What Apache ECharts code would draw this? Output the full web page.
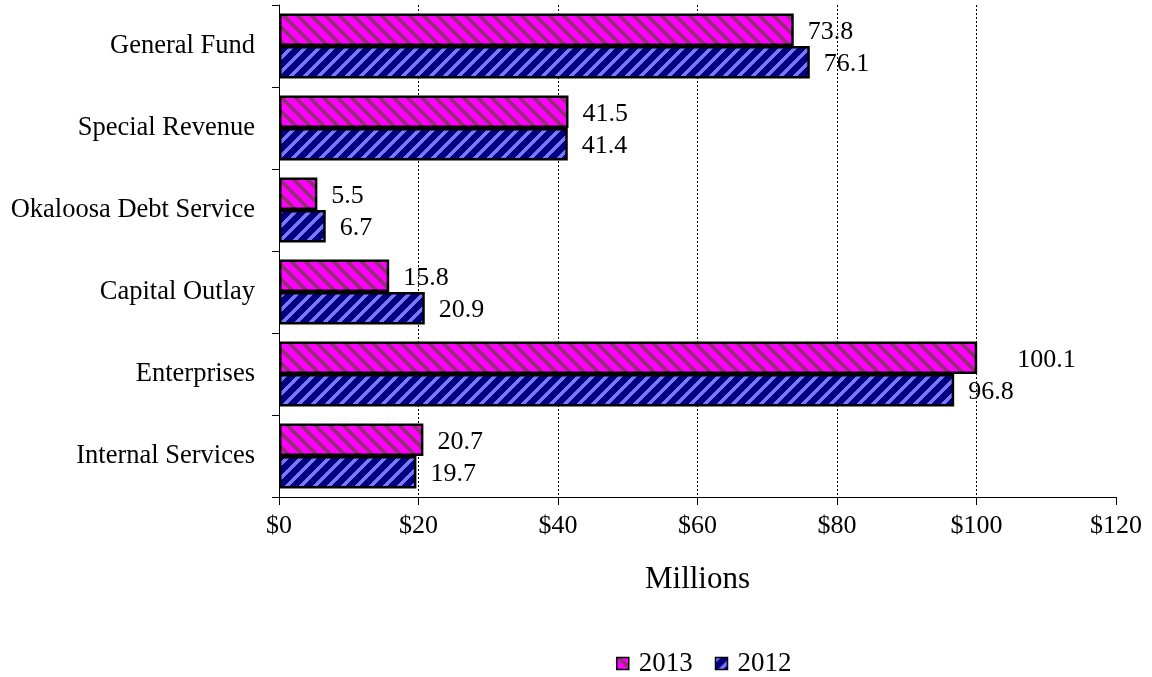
<!DOCTYPE html>
<html>
<head>
<meta charset="utf-8">
<script src="https://cdn.jsdelivr.net/npm/echarts@6/dist/echarts.min.js"></script>
<style>
html,body{margin:0;padding:0;background:#fff;}
#main{width:1152px;height:677px;}
</style>
</head>
<body>
<div id="main"></div>
<script>
// ---- data ----
const categories = ['General Fund','Special Revenue','Okaloosa Debt Service','Capital Outlay','Enterprises','Internal Services'];
const values2013 = [73.8, 41.5, 5.5, 15.8, 100.1, 20.7];
const values2012 = [76.1, 41.4, 6.7, 20.9, 96.8, 19.7];
const seriesNames = ['2013', '2012'];
const xTicks = [0, 20, 40, 60, 80, 100, 120];

// ---- patterns ----
function makePattern(bg, fg, dir, P, w) {
  const c = document.createElement('canvas');
  c.width = P; c.height = P;
  const ctx = c.getContext('2d');
  ctx.fillStyle = bg; ctx.fillRect(0, 0, P, P);
  ctx.fillStyle = fg;
  for (let y = 0; y < P; y++) {
    for (let x = 0; x < P; x++) {
      const k = dir === 'down' ? (((x - y) % P) + P) % P : (x + y) % P;
      if (k < w) ctx.fillRect(x, y, 1, 1);
    }
  }
  return { image: c, repeat: 'repeat' };
}
const pinkPattern = makePattern('#FF00FF', '#913070', 'down', 14, 5);
const bluePattern = makePattern('#000080', '#7878F8', 'up', 14, 5);

const font = 'Liberation Serif, Times New Roman, serif';

function labelFor() {
  return {
    show: true, position: 'right', distance: 14,
    color: '#000', fontFamily: font, fontSize: 26,
    offset: [0, 2],
    formatter: p => p.value.toFixed(1)
  };
}

const data2013 = values2013.map(v => v === 100.1 ? { value: v, label: { distance: 40 } } : v);

const option = {
  animation: false,
  backgroundColor: '#fff',
  grid: { left: 279, right: 36, top: 5, bottom: 180, containLabel: false },
  legend: {
    data: seriesNames,
    icon: 'rect',
    left: 611, top: 645,
    itemWidth: 12, itemHeight: 12, itemGap: 22,
    textStyle: { fontFamily: font, fontSize: 27, color: '#000', padding: [0, 0, 0, 5] },
    itemStyle: { borderColor: '#000', borderWidth: 1.5 }
  },
  xAxis: {
    type: 'value', min: xTicks[0], max: xTicks[xTicks.length - 1], interval: 20,
    name: 'Millions', nameLocation: 'middle', nameGap: 67,
    nameTextStyle: { fontFamily: font, fontSize: 31, color: '#000' },
    axisLine: { show: true, lineStyle: { color: '#000', width: 1 } },
    axisTick: { show: true, length: 8, lineStyle: { color: '#000' } },
    axisLabel: { fontFamily: font, fontSize: 26, color: '#000', margin: 16, formatter: v => '$' + v },
    splitLine: { show: true, showMinLine: false, showMaxLine: false, lineStyle: { color: '#000', type: [2, 2], width: 1 } }
  },
  yAxis: {
    type: 'category', data: categories, inverse: true,
    axisLine: { show: true, lineStyle: { color: '#000', width: 1 } },
    axisTick: { show: true, length: 7, lineStyle: { color: '#000' } },
    axisLabel: { fontFamily: font, fontSize: 26.5, color: '#000', margin: 24 },
    splitLine: { show: false }
  },
  series: [
    {
      name: seriesNames[0], type: 'bar', data: data2013,
      barGap: '0%', barCategoryGap: '21%',
      itemStyle: { color: pinkPattern, borderColor: '#000', borderWidth: 2.5 },
      label: labelFor()
    },
    {
      name: seriesNames[1], type: 'bar', data: values2012,
      barGap: '0%', barCategoryGap: '21%',
      itemStyle: { color: bluePattern, borderColor: '#000', borderWidth: 2.5 },
      label: labelFor()
    }
  ]
};

const chart = echarts.init(document.getElementById('main'), null, { renderer: 'canvas' });
chart.setOption(option);
</script>
</body>
</html>
